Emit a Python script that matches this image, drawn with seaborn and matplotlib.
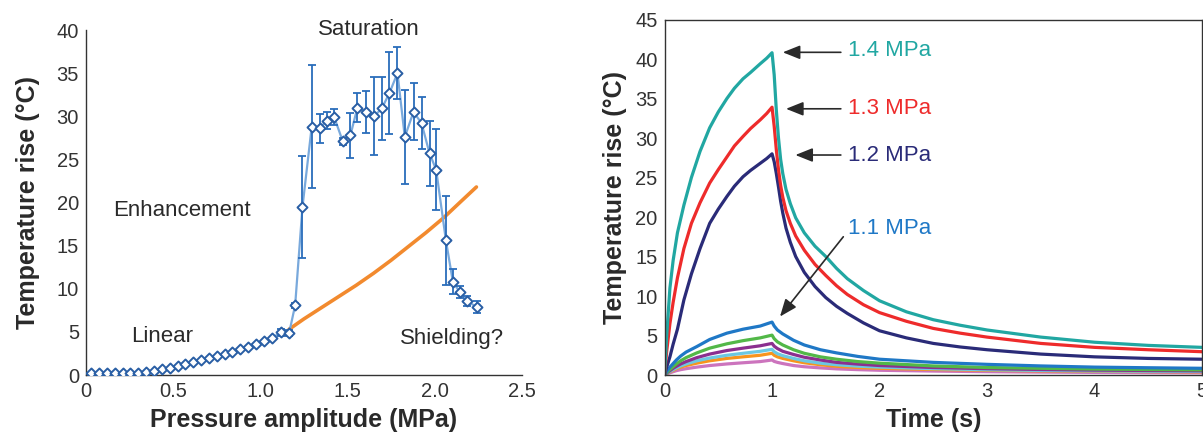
import numpy as np
import pandas as pd
import matplotlib
matplotlib.use("Agg")
import matplotlib.pyplot as plt
import seaborn as sns

sns.set_theme(style="white")
plt.rcParams['font.family'] = ['Liberation Sans', 'DejaVu Sans']

# ---------------- Left panel data ----------------
pressure = [0.03, 0.075, 0.12, 0.165, 0.21, 0.255, 0.30, 0.345, 0.39, 0.435,
            0.48, 0.525, 0.57, 0.615, 0.66, 0.705, 0.75, 0.795, 0.84, 0.885,
            0.93, 0.975, 1.02, 1.065, 1.118, 1.165, 1.20, 1.242, 1.295, 1.34,
            1.382, 1.424, 1.473, 1.517, 1.557, 1.607, 1.653, 1.697, 1.741, 1.787,
            1.829, 1.879, 1.925, 1.971, 2.009, 2.065, 2.105, 2.143, 2.185, 2.243]
temp_rise = [0.2, 0.2, 0.2, 0.2, 0.2, 0.2, 0.25, 0.35, 0.5, 0.7,
             0.85, 1.05, 1.3, 1.5, 1.7, 1.95, 2.2, 2.45, 2.7, 3.0,
             3.2, 3.6, 3.95, 4.25, 4.95, 4.83, 8.1, 19.5, 28.8, 28.6,
             29.5, 29.9, 27.1, 27.8, 31.0, 30.5, 30.0, 30.9, 32.7, 35.0,
             27.6, 30.5, 29.2, 25.7, 23.8, 15.6, 10.8, 9.66, 8.6, 7.85]
temp_err = [0, 0, 0, 0, 0, 0, 0, 0, 0, 0,
            0, 0, 0, 0, 0, 0, 0, 0, 0, 0,
            0, 0, 0, 0, 0.4, 0.35, 0.3, 5.9, 7.1, 1.7,
            1.0, 0.9, 0.4, 2.6, 1.7, 2.4, 4.5, 3.6, 4.8, 3.0,
            5.4, 3.3, 3.0, 3.8, 4.7, 5.2, 1.45, 0.7, 0.6, 0.7]
fit_pressure = [1.165, 1.25, 1.35, 1.45, 1.55, 1.65, 1.75, 1.85, 1.95, 2.05, 2.15, 2.24]
fit_temp = [5.3, 6.5, 7.8, 9.1, 10.4, 11.8, 13.3, 14.9, 16.5, 18.2, 20.1, 21.8]

# ---------------- Right panel data ----------------
t_high = [0, 0.02, 0.05, 0.08, 0.12, 0.18, 0.25, 0.33, 0.42, 0.5, 0.58, 0.65, 0.73, 0.8,
          0.89, 0.95, 1.0, 1.02, 1.04, 1.06, 1.08, 1.1, 1.13, 1.17, 1.22, 1.3, 1.4, 1.5,
          1.6, 1.7, 1.85, 2.0, 2.25, 2.5, 2.75, 3.0, 3.5, 4.0, 4.5, 5.0]
T_14 = [0, 5.0, 11.0, 14.5, 18.0, 21.5, 25.0, 28.3, 31.3, 33.3, 35.0, 36.3, 37.5, 38.3,
        39.4, 40.1, 40.8, 38.0, 33.5, 30.0, 27.3, 25.5, 23.5, 21.7, 19.9, 18.0, 16.3, 15.0,
        13.5, 12.2, 10.7, 9.4, 8.0, 7.0, 6.3, 5.7, 4.8, 4.15, 3.75, 3.5]
T_13 = [0, 3.0, 6.5, 9.2, 12.3, 16.0, 19.2, 21.8, 24.3, 26.0, 27.6, 29.0, 30.2, 31.2,
        32.3, 33.1, 33.9, 31.5, 28.5, 26.0, 24.0, 22.5, 20.8, 19.2, 17.6, 15.8, 14.0, 12.6,
        11.3, 10.2, 8.9, 7.9, 6.8, 5.9, 5.3, 4.8, 4.0, 3.5, 3.2, 2.95]
T_12 = [0, 1.0, 2.3, 3.9, 5.8, 9.5, 12.8, 16.0, 19.2, 21.0, 22.6, 23.9, 25.1, 25.9,
        26.8, 27.4, 28.0, 27.0, 25.5, 23.8, 22.0, 20.5, 18.6, 16.8, 15.0, 13.0, 11.2, 9.8,
        8.7, 7.8, 6.6, 5.6, 4.7, 4.0, 3.55, 3.2, 2.65, 2.3, 2.1, 2.0]

t_low = [0, 0.02, 0.05, 0.08, 0.11, 0.15, 0.2, 0.3, 0.42, 0.58, 0.73, 0.89, 1.0, 1.02,
         1.05, 1.1, 1.2, 1.3, 1.45, 1.6, 1.8, 2.0, 2.5, 3.0, 3.5, 4.0, 4.5, 5.0]
T_11 = [0, 0.45, 1.0, 1.45, 1.9, 2.4, 2.9, 3.6, 4.5, 5.3, 5.8, 6.2, 6.7, 6.2,
        5.7, 5.2, 4.4, 3.8, 3.2, 2.8, 2.35, 2.0, 1.6, 1.35, 1.15, 1.0, 0.92, 0.85]
T_green = [0, 0.3, 0.7, 1.05, 1.4, 1.8, 2.2, 2.8, 3.4, 3.95, 4.35, 4.7, 5.05, 4.6,
           4.2, 3.8, 3.2, 2.75, 2.3, 2.0, 1.7, 1.5, 1.15, 0.95, 0.85, 0.75, 0.7, 0.65]
T_purple = [0, 0.25, 0.55, 0.85, 1.1, 1.4, 1.7, 2.2, 2.65, 3.1, 3.4, 3.7, 4.0, 3.65,
            3.35, 3.0, 2.6, 2.25, 1.9, 1.6, 1.38, 1.2, 0.95, 0.8, 0.7, 0.62, 0.57, 0.53]
T_cyan = [0, 0.2, 0.45, 0.68, 0.9, 1.15, 1.4, 1.8, 2.15, 2.5, 2.75, 3.0, 3.25, 2.95,
          2.7, 2.45, 2.1, 1.8, 1.5, 1.3, 1.12, 1.0, 0.8, 0.67, 0.58, 0.52, 0.48, 0.45]
T_orange = [0, 0.18, 0.4, 0.6, 0.8, 1.0, 1.2, 1.5, 1.8, 2.1, 2.3, 2.5, 2.75, 2.5,
            2.3, 2.1, 1.8, 1.55, 1.3, 1.1, 0.95, 0.85, 0.7, 0.6, 0.52, 0.47, 0.43, 0.4]
T_pink = [0, 0.12, 0.28, 0.42, 0.55, 0.68, 0.8, 1.0, 1.2, 1.4, 1.55, 1.7, 1.9, 1.72,
          1.6, 1.45, 1.2, 1.05, 0.9, 0.78, 0.68, 0.6, 0.5, 0.42, 0.37, 0.33, 0.3, 0.28]

curve_names = ['pink', 'orange', 'cyan', 'purple', 'green', '1.1 MPa', '1.2 MPa', '1.3 MPa', '1.4 MPa']
curve_colors = ['#cc74bd', '#f7941d', '#6cc8e2', '#8b2f8f', '#52b848', '#1f78c6', '#2a2b78', '#ee2b2b', '#21a7a2']
label_names = ['1.4 MPa', '1.3 MPa', '1.2 MPa', '1.1 MPa']
label_T = [41.1, 33.8, 27.8, 18.6]
arrow_head_t = [1.10, 1.13, 1.217, 1.074]
arrow_head_T = [40.85, 33.7, 27.85, 7.4]
arrow_tail_t = [1.64, 1.64, 1.64, 1.663]
arrow_tail_T = [40.85, 33.7, 27.85, 17.5]
label_colors = ['#21a7a2', '#ee2b2b', '#2a2b78', '#1f78c6']

curves = {
    'pink': (t_low, T_pink), 'orange': (t_low, T_orange), 'cyan': (t_low, T_cyan),
    'purple': (t_low, T_purple), 'green': (t_low, T_green), '1.1 MPa': (t_low, T_11),
    '1.2 MPa': (t_high, T_12), '1.3 MPa': (t_high, T_13), '1.4 MPa': (t_high, T_14),
}
rows = []
for name in curve_names:
    tt, TT = curves[name]
    for a, b in zip(tt, TT):
        rows.append((name, a, b))
df_right = pd.DataFrame(rows, columns=['curve', 'time', 'temp'])

TEXT = '#2a2a2a'
TICK = '#333333'

fig = plt.figure(figsize=(12.03, 4.38), dpi=100)
axL = fig.add_axes([0.0715, 0.1438, 0.3622, 0.7877])
axR = fig.add_axes([0.5524, 0.1438, 0.4468, 0.8116])

# ---------------- Left panel ----------------
sns.lineplot(x=fit_pressure, y=fit_temp, ax=axL, color='#f28a2e', lw=2.6, sort=False, zorder=2)
sns.lineplot(x=pressure, y=temp_rise, ax=axL, color='#79a9dc', lw=1.6, sort=False, zorder=3)
p = np.array(pressure); tr = np.array(temp_rise); te = np.array(temp_err)
m = te > 0
axL.errorbar(p[m], tr[m], yerr=te[m], fmt='none', ecolor='#2a6dbb', elinewidth=1.3,
             capsize=3, capthick=1.3, zorder=4)
sns.scatterplot(x=pressure, y=temp_rise, ax=axL, marker='D', s=26, color='white',
                edgecolor='#2a5fa5', linewidth=1.4, zorder=5)

axL.set_xlim(0, 2.5)
axL.set_ylim(0, 40)
axL.set_xticks([0, 0.5, 1.0, 1.5, 2.0, 2.5])
axL.set_xticklabels(['0', '0.5', '1.0', '1.5', '2.0', '2.5'])
axL.set_yticks(range(0, 45, 5))
for s in ['top', 'right']:
    axL.spines[s].set_visible(False)

axL.text(1.62, 40.1, 'Saturation', ha='center', va='center', fontsize=16, color=TEXT, clip_on=False)
axL.text(0.55, 19.1, 'Enhancement', ha='center', va='center', fontsize=16, color=TEXT)
axL.text(0.436, 4.5, 'Linear', ha='center', va='center', fontsize=16, color=TEXT)
axL.text(2.10, 4.2, 'Shielding?', ha='center', va='center', fontsize=16, color=TEXT)

axL.set_xlabel('Pressure amplitude (MPa)', fontsize=18, fontweight='bold', color=TEXT)
axL.set_ylabel('Temperature rise (°C)', fontsize=18, fontweight='bold', color=TEXT)
axL.xaxis.set_label_coords(0.5, -0.095)
axL.yaxis.set_label_coords(-0.105, 0.5)

# ---------------- Right panel ----------------
sns.lineplot(data=df_right, x='time', y='temp', hue='curve', hue_order=curve_names,
             palette=dict(zip(curve_names, curve_colors)), ax=axR, lw=2.3,
             sort=False, estimator=None, legend=False)
axR.set_xlim(0, 5)
axR.set_ylim(0, 45)
axR.set_xticks(range(0, 6))
axR.set_yticks(range(0, 50, 5))

for name, ty, ht, hT, tt, tT, c in zip(label_names, label_T, arrow_head_t, arrow_head_T,
                                       arrow_tail_t, arrow_tail_T, label_colors):
    axR.annotate('', xy=(ht, hT), xytext=(tt, tT),
                 arrowprops=dict(arrowstyle='-|>,head_length=0.7,head_width=0.28',
                                 color='#2a2a2a', lw=1.2, mutation_scale=15,
                                 shrinkA=0, shrinkB=0))
    axR.text(1.707, ty, name, ha='left', va='center', fontsize=16, color=c)

axR.set_xlabel('Time (s)', fontsize=18, fontweight='bold', color=TEXT)
axR.set_ylabel('Temperature rise (°C)', fontsize=18, fontweight='bold', color=TEXT)
axR.xaxis.set_label_coords(0.5, -0.093)
axR.yaxis.set_label_coords(-0.07, 0.5)

for ax in (axL, axR):
    ax.tick_params(direction='in', length=5, width=1, color=TICK, labelsize=14.5,
                   labelcolor=TICK, pad=5)
    for s in ax.spines.values():
        s.set_color(TICK)
        s.set_linewidth(1.0)

fig.savefig('out.png', dpi=100)
